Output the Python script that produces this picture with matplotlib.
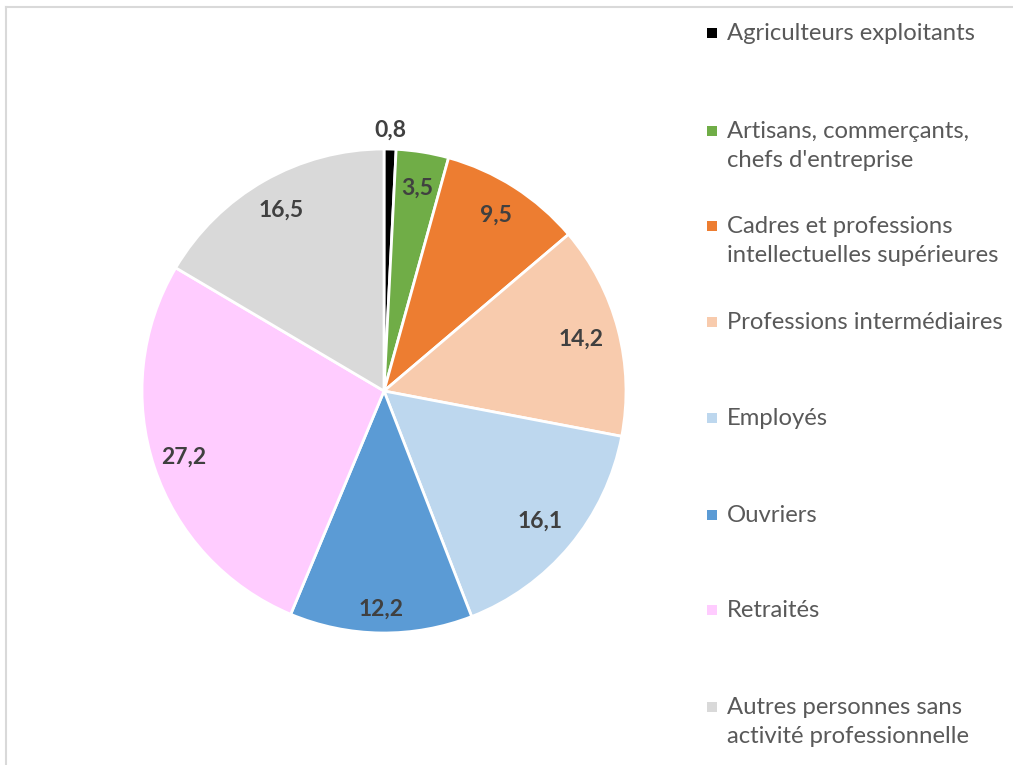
import numpy as np
import matplotlib
matplotlib.use('Agg')
import matplotlib.pyplot as plt
from matplotlib.patches import Rectangle
from matplotlib.lines import Line2D

plt.rcParams['font.family'] = ['Lato', 'DejaVu Sans']

# Données
categories = [
    "Agriculteurs exploitants",
    "Artisans, commerçants,\nchefs d'entreprise",
    "Cadres et professions\nintellectuelles supérieures",
    "Professions intermédiaires",
    "Employés",
    "Ouvriers",
    "Retraités",
    "Autres personnes sans\nactivité professionnelle",
]
values = [0.8, 3.5, 9.5, 14.2, 16.1, 12.2, 27.2, 16.5]
colors = ['#000000', '#70AD47', '#ED7D31', '#F8CBAD',
          '#BDD7EE', '#5B9BD5', '#FFCCFF', '#D9D9D9']

W, H = 1013, 765
fig = plt.figure(figsize=(W / 100, H / 100), dpi=100, facecolor='white')

# cadre gris clair
fig.add_artist(Line2D([6 / W, 1], [1 - 7 / H, 1 - 7 / H], color='#D9D9D9', lw=1.5))
fig.add_artist(Line2D([6 / W, 6 / W], [0, 1 - 7 / H], color='#D9D9D9', lw=1.5))

# camembert
cx, cy, r = 384, 391, 242
ax = fig.add_axes([(cx - r) / W, (H - cy - r) / H, 2 * r / W, 2 * r / H])
wedges, _ = ax.pie(values, colors=colors, startangle=90, counterclock=False,
                   radius=1, wedgeprops=dict(edgecolor='white', linewidth=2))
ax.set_xlim(-1, 1)
ax.set_ylim(-1, 1)
ax.set_aspect('equal')
ax.axis('off')

# étiquettes de données, sur l'angle médian de chaque part
label_r = [1.08, 0.85, 0.86, 0.84, 0.84, 0.90, 0.87, 0.86]
total = sum(values)
cum = 0
for v, lr in zip(values, label_r):
    mid = (cum + v / 2) / total * 360
    cum += v
    ang = np.deg2rad(90 - mid)
    ax.text(lr * np.cos(ang), lr * np.sin(ang), f"{v:.1f}".replace('.', ','),
            ha='center', va='center', fontsize=16.5, fontweight='bold',
            color='#404040')

# légende
leg_y = [33, 131, 226, 322, 418, 515, 610, 707]
line_step = 29
for lab, col, y in zip(categories, colors, leg_y):
    fig.add_artist(Rectangle(((712 - 5) / W, 1 - (y + 5) / H), 10 / W, 10 / H,
                             facecolor=col, edgecolor='none'))
    for i, line in enumerate(lab.split('\n')):
        fig.text(727 / W, 1 - (y + 7 + i * line_step) / H, line,
                 ha='left', va='baseline', fontsize=17.2, color='#595959')

fig.savefig('out.png', dpi=100, facecolor='white')
